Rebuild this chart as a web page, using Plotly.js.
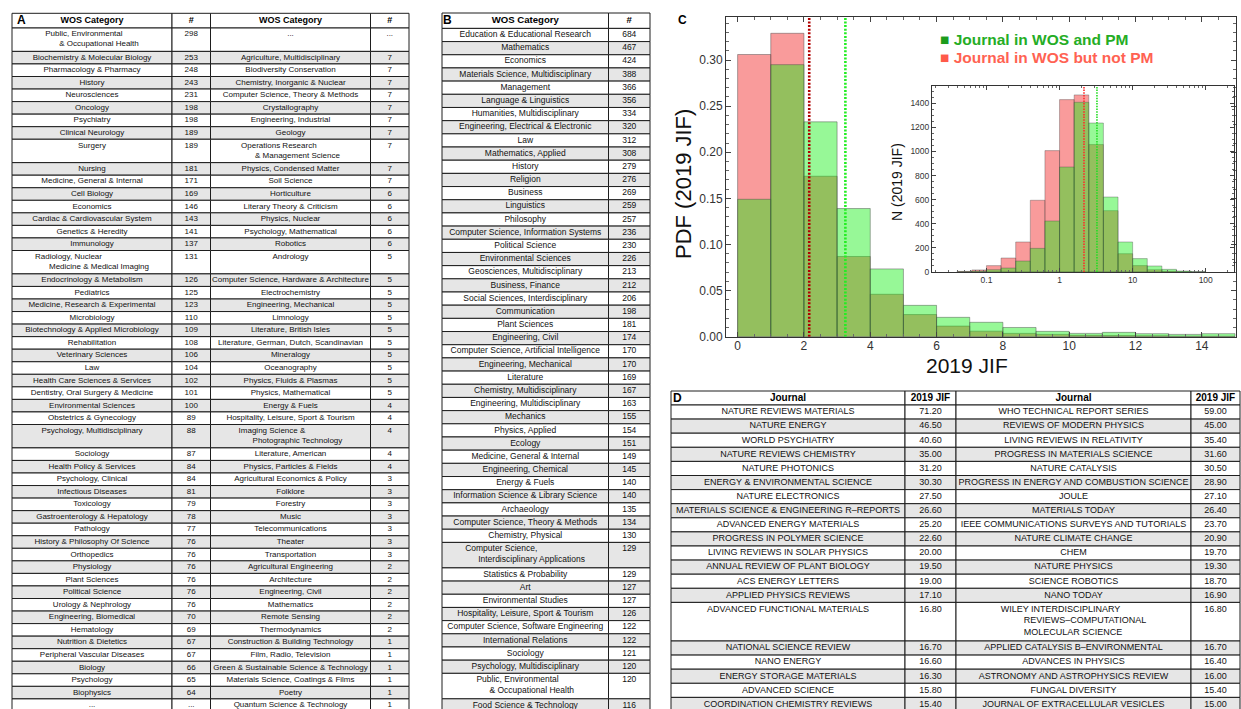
<!DOCTYPE html>
<html><head><meta charset="utf-8">
<script src="https://cdn.plot.ly/plotly-3.0.1.min.js"></script>
<style>html,body{margin:0;padding:0;background:#fff;overflow:hidden}</style>
</head><body><div id="chart" style="width:1241px;height:709px"></div>
<script>
// ================= DATA =================
// Table A: WOS categories of journals in PM
const tableA_catLeft = [
"Public, Environmental\n& Occupational Health","Biochemistry & Molecular Biology","Pharmacology & Pharmacy","History","Neurosciences","Oncology","Psychiatry","Clinical Neurology","Surgery","Nursing","Medicine, General & Internal","Cell Biology","Economics","Cardiac & Cardiovascular System","Genetics & Heredity","Immunology","Radiology, Nuclear\nMedicine & Medical Imaging","Endocrinology & Metabolism","Pediatrics","Medicine, Research & Experimental","Microbiology","Biotechnology & Applied Microbiology","Rehabilitation","Veterinary Sciences","Law","Health Care Sciences & Services","Dentistry, Oral Surgery & Medicine","Environmental Sciences","Obstetrics & Gynecology","Psychology, Multidisciplinary","Sociology","Health Policy & Services","Psychology, Clinical","Infectious Diseases","Toxicology","Gastroenterology & Hepatology","Pathology","History & Philosophy Of Science","Orthopedics","Physiology","Plant Sciences","Political Science","Urology & Nephrology","Engineering, Biomedical","Hematology","Nutrition & Dietetics","Peripheral Vascular Diseases","Biology","Psychology","Biophysics","..."];
const tableA_numLeft = [298,253,248,243,231,198,198,189,189,181,171,169,146,143,141,137,131,126,125,123,110,109,108,106,104,102,101,100,89,88,87,84,84,81,79,78,77,76,76,76,76,76,76,70,69,67,67,66,65,64,"..."];
const tableA_catRight = [
"...","Agriculture, Multidisciplinary","Biodiversity Conservation","Chemistry, Inorganic & Nuclear","Computer Science, Theory & Methods","Crystallography","Engineering, Industrial","Geology","Operations Research\n& Management Science","Physics, Condensed Matter","Soil Science","Horticulture","Literary Theory & Criticism","Physics, Nuclear","Psychology, Mathematical","Robotics","Andrology","Computer Science, Hardware & Architecture","Electrochemistry","Engineering, Mechanical","Limnology","Literature, British Isles","Literature, German, Dutch, Scandinavian","Mineralogy","Oceanography","Physics, Fluids & Plasmas","Physics, Mathematical","Energy & Fuels","Hospitality, Leisure, Sport & Tourism","Imaging Science &\nPhotographic Technology","Literature, American","Physics, Particles & Fields","Agricultural Economics & Policy","Folklore","Forestry","Music","Telecommunications","Theater","Transportation","Agricultural Engineering","Architecture","Engineering, Civil","Mathematics","Remote Sensing","Thermodynamics","Construction & Building Technology","Film, Radio, Television","Green & Sustainable Science & Technology","Materials Science, Coatings & Films","Poetry","Quantum Science & Technology"];
const tableA_numRight = ["...",7,7,7,7,7,7,7,7,7,7,6,6,6,6,6,5,5,5,5,5,5,5,5,5,5,5,4,4,4,4,4,3,3,3,3,3,3,3,2,2,2,2,2,2,1,1,1,1,1,1];

// Table B: WOS categories of journals not in PM
const tableB_cat = [
"Education & Educational Research","Mathematics","Economics","Materials Science, Multidisciplinary","Management","Language & Linguistics","Humanities, Multidisciplinary","Engineering, Electrical & Electronic","Law","Mathematics, Applied","History","Religion","Business","Linguistics","Philosophy","Computer Science, Information Systems","Political Science","Environmental Sciences","Geosciences, Multidisciplinary","Business, Finance","Social Sciences, Interdisciplinary","Communication","Plant Sciences","Engineering, Civil","Computer Science, Artificial Intelligence","Engineering, Mechanical","Literature","Chemistry, Multidisciplinary","Engineering, Multidisciplinary","Mechanics","Physics, Applied","Ecology","Medicine, General & Internal","Engineering, Chemical","Energy & Fuels","Information Science & Library Science","Archaeology","Computer Science, Theory & Methods","Chemistry, Physical","Computer Science,\nInterdisciplinary Applications","Statistics & Probability","Art","Environmental Studies","Hospitality, Leisure, Sport & Tourism","Computer Science, Software Engineering","International Relations","Sociology","Psychology, Multidisciplinary","Public, Environmental\n& Occupational Health","Food Science & Technology"];
const tableB_num = [684,467,424,388,366,356,334,320,312,308,279,276,269,259,257,236,230,226,213,212,206,198,181,174,170,170,169,167,163,155,154,151,149,145,140,140,135,134,130,129,129,127,127,126,122,122,121,120,120,116];

// Table D: top journals not in PM by 2019 JIF
const tableD_journalLeft = ["NATURE REVIEWS MATERIALS","NATURE ENERGY","WORLD PSYCHIATRY","NATURE REVIEWS CHEMISTRY","NATURE PHOTONICS","ENERGY & ENVIRONMENTAL SCIENCE","NATURE ELECTRONICS","MATERIALS SCIENCE & ENGINEERING R\u2013REPORTS","ADVANCED ENERGY MATERIALS","PROGRESS IN POLYMER SCIENCE","LIVING REVIEWS IN SOLAR PHYSICS","ANNUAL REVIEW OF PLANT BIOLOGY","ACS ENERGY LETTERS","APPLIED PHYSICS REVIEWS","ADVANCED FUNCTIONAL MATERIALS","NATIONAL SCIENCE REVIEW","NANO ENERGY","ENERGY STORAGE MATERIALS","ADVANCED SCIENCE","COORDINATION CHEMISTRY REVIEWS"];
const tableD_jifLeft = [71.20,46.50,40.60,35.00,31.20,30.30,27.50,26.60,25.20,22.60,20.00,19.50,19.00,17.10,16.80,16.70,16.60,16.30,15.80,15.40];
const tableD_journalRight = ["WHO TECHNICAL REPORT SERIES","REVIEWS OF MODERN PHYSICS","LIVING REVIEWS IN RELATIVITY","PROGRESS IN MATERIALS SCIENCE","NATURE CATALYSIS","PROGRESS IN ENERGY AND COMBUSTION SCIENCE","JOULE","MATERIALS TODAY","IEEE COMMUNICATIONS SURVEYS AND TUTORIALS","NATURE CLIMATE CHANGE","CHEM","NATURE PHYSICS","SCIENCE ROBOTICS","NANO TODAY","WILEY INTERDISCIPLINARY\nREVIEWS\u2013COMPUTATIONAL\nMOLECULAR SCIENCE","APPLIED CATALYSIS B\u2013ENVIRONMENTAL","ADVANCES IN PHYSICS","ASTRONOMY AND ASTROPHYSICS REVIEW","FUNGAL DIVERSITY","JOURNAL OF EXTRACELLULAR VESICLES"];
const tableD_jifRight = [59.00,45.00,35.40,31.60,30.50,28.90,27.10,26.40,23.70,20.90,19.70,19.30,18.70,16.90,16.80,16.70,16.40,16.00,15.40,15.00];

// Panel C: PDF of 2019 JIF (linear bins) and counts (log bins)
const jifBinEdges = [0,1,2,3,4,5,6,7,8,9,10,11,12,13,14,15];
const pdfInWosAndPM = [0.149,0.295,0.233,0.139,0.0735,0.034,0.021,0.0156,0.0100,0.0058,0.0036,0.0047,0.0033,0.0025,0.0033];
const pdfInWosNotPM = [0.306,0.329,0.174,0.087,0.046,0.024,0.0115,0.006,0.0036,0.0025,0.0015,0.0012,0.001,0.0006,0.0005];
const logBinEdges = [0.0398,0.0631,0.1,0.1585,0.2512,0.3981,0.631,1,1.585,2.512,3.981,6.31,10,15.85,25.12,39.81,63.1,100];
const countInWosAndPM = [2,7,19,33,91,196,423,871,1408,1236,622,249,111,50,22,8,2];
const countInWosNotPM = [5,17,53,116,249,595,1007,1430,1469,1057,509,152,53,19,6,2,0];
const medianJifPM = 3.25;
const medianJifNotPM = 2.16;
const insetTickVals = [0.1,1,10,100];
const insetTickText = ["0.1","1","10","100"];

// ================= LAYOUT HELPERS =================
const W = 1241, H = 709;
const FONT = '"Liberation Sans", Arial, Helvetica, sans-serif';
const px = x => x / W;
const py = y => 1 - y / H;
const SHADE = '#e6e6e6';
const GRID = '#1e1e1e';

const ctx = document.createElement('canvas').getContext('2d');
function textWidth(s, size) { ctx.font = size + 'px "Liberation Sans"'; return ctx.measureText(s).width; }

function buildTable(cfg) {
  const cols = cfg.columns;
  const nRows = cols[0].values.length;
  const split = cols.map(c => c.values.map(v => (typeof v === 'number' && c.fixed ? v.toFixed(c.fixed) : String(v)).split('\n')));
  const nLines = [];
  for (let i = 0; i < nRows; i++) nLines.push(Math.max(...split.map(s => s[i].length)));
  const heights = nLines.map(n => cfg.rowH + (n - 1) * cfg.extraH);
  const tops = [];
  let y = cfg.top + cfg.headerH;
  heights.forEach(h => { tops.push(y); y += h; });
  const traces = [];
  const cT = {x: [], y: [], text: []}, lT = {x: [], y: [], text: []}, hT = {x: [], y: [], text: []};
  cols.forEach((col, c) => {
    const x0 = cfg.edges[c], x1 = cfg.edges[c + 1], xc = (x0 + x1) / 2;
    const ys = [cfg.top + cfg.headerH / 2].concat(tops.map((t, i) => t + heights[i] / 2));
    const ws = [cfg.headerH].concat(heights);
    const fills = ['#ffffff'].concat(heights.map((_, i) => i % 2 ? SHADE : '#ffffff'));
    traces.push({type: 'bar', orientation: 'h', xaxis: 'x3', yaxis: 'y3', y: ys, width: ws, base: x0,
      x: ys.map(() => x1 - x0), marker: {color: fills, line: {color: GRID, width: 1}},
      hoverinfo: 'skip', showlegend: false});
    hT.x.push(xc); hT.y.push(cfg.top + cfg.headerH / 2); hT.text.push('<b>' + col.header + '</b>');
    split[c].forEach((ls, i) => {
      const yFirst = tops[i] + cfg.rowH / 2;
      if (ls.length === 1) { cT.x.push(xc); cT.y.push(yFirst); cT.text.push(ls[0]); }
      else {
        let wBlock = textWidth(ls[0], cfg.font);
        ls.slice(1).forEach(l => { wBlock = Math.max(wBlock, cfg.indent + textWidth(l, cfg.font)); });
        const left = xc - wBlock / 2;
        ls.forEach((l, k) => { lT.x.push(left + (k ? cfg.indent : 0)); lT.y.push(yFirst + k * cfg.lineStep); lT.text.push(l); });
      }
    });
  });
  const tf = {family: FONT, size: cfg.font, color: '#111'};
  const base = {type: 'scatter', mode: 'text', xaxis: 'x3', yaxis: 'y3', hoverinfo: 'skip', showlegend: false};
  traces.push(Object.assign({}, base, cT, {textposition: 'middle center', textfont: tf}));
  traces.push(Object.assign({}, base, lT, {textposition: 'middle right', textfont: tf}));
  traces.push(Object.assign({}, base, hT, {textposition: 'middle center', textfont: {family: FONT, size: cfg.headFont, color: '#000'}}));
  return traces;
}

const tableA = buildTable({
  columns: [{header: 'WOS Category', values: tableA_catLeft}, {header: '#', values: tableA_numLeft},
            {header: 'WOS Category', values: tableA_catRight}, {header: '#', values: tableA_numRight}],
  edges: [12, 172, 210.5, 370.5, 409], top: 13.3, headerH: 14.7, rowH: 12.55, extraH: 10.85, lineStep: 10,
  font: 8, headFont: 9, indent: 14});
const tableB = buildTable({
  columns: [{header: 'WOS Category', values: tableB_cat}, {header: '#', values: tableB_num}],
  edges: [442, 608.5, 650], top: 13, headerH: 15.4, rowH: 13.18, extraH: 12.3, lineStep: 11,
  font: 8.5, headFont: 9.6, indent: 13});
const tableD = buildTable({
  columns: [{header: 'Journal', values: tableD_journalLeft}, {header: '2019 JIF', values: tableD_jifLeft, fixed: 2},
            {header: 'Journal', values: tableD_journalRight}, {header: '2019 JIF', values: tableD_jifRight, fixed: 2}],
  edges: [671, 905, 956, 1191, 1240], top: 391, headerH: 14, rowH: 14.1, extraH: 12.25, lineStep: 11.5,
  font: 9, headFont: 10, indent: 23});

// ================= PANEL C =================
const RED_FILL = 'rgba(240,5,5,0.40)';
const GREEN_FILL = 'rgba(13,238,13,0.43)';
const EDGE = 'rgba(70,70,70,0.45)';
const MAIN_YMAX = 0.347, INSET_YMAX = 1543;

const linLeft = jifBinEdges.slice(0, -1);
const linWidth = linLeft.map((e, i) => jifBinEdges[i + 1] - e);
const logLeft = logBinEdges.slice(0, -1);
const logWidth = logLeft.map((e, i) => logBinEdges[i + 1] - e);

const chartTraces = [
  {type: 'bar', x: linLeft, y: pdfInWosNotPM, width: linWidth, offset: 0, name: 'Journal in WOS but not PM',
   marker: {color: RED_FILL, line: {color: EDGE, width: 1}}, xaxis: 'x', yaxis: 'y', hoverinfo: 'skip'},
  {type: 'bar', x: linLeft, y: pdfInWosAndPM, width: linWidth, offset: 0, name: 'Journal in WOS and PM',
   marker: {color: GREEN_FILL, line: {color: EDGE, width: 1}}, xaxis: 'x', yaxis: 'y', hoverinfo: 'skip'},
  {type: 'scatter', mode: 'lines', x: [medianJifNotPM, medianJifNotPM], y: [0, MAIN_YMAX],
   line: {color: '#b00000', width: 2.6, dash: '2px,1.6px'}, xaxis: 'x', yaxis: 'y', hoverinfo: 'skip'},
  {type: 'scatter', mode: 'lines', x: [medianJifPM, medianJifPM], y: [0, MAIN_YMAX],
   line: {color: '#22ee22', width: 2.6, dash: '2px,1.6px'}, xaxis: 'x', yaxis: 'y', hoverinfo: 'skip'},
  {type: 'bar', x: logLeft, y: countInWosNotPM, width: logWidth, offset: 0,
   marker: {color: RED_FILL, line: {color: EDGE, width: 0.8}}, xaxis: 'x2', yaxis: 'y2', hoverinfo: 'skip'},
  {type: 'bar', x: logLeft, y: countInWosAndPM, width: logWidth, offset: 0,
   marker: {color: GREEN_FILL, line: {color: EDGE, width: 0.8}}, xaxis: 'x2', yaxis: 'y2', hoverinfo: 'skip'},
  {type: 'scatter', mode: 'lines', x: [medianJifNotPM, medianJifNotPM], y: [0, INSET_YMAX],
   line: {color: '#ff2a2a', width: 1.6, dash: '1.5px,1.2px'}, xaxis: 'x2', yaxis: 'y2', hoverinfo: 'skip'},
  {type: 'scatter', mode: 'lines', x: [medianJifPM, medianJifPM], y: [0, INSET_YMAX],
   line: {color: '#22dd22', width: 1.6, dash: '1.5px,1.2px'}, xaxis: 'x2', yaxis: 'y2', hoverinfo: 'skip'}
];

const axisStyle = {ticks: 'inside', tickwidth: 1, tickcolor: '#444', showline: true, linecolor: '#333',
  linewidth: 1, mirror: 'ticks', showgrid: false, zeroline: false, fixedrange: true};
const minorTicks = [];
[0.01, 0.1, 1, 10, 100].forEach(d => { for (let k = 2; k <= 9; k++) minorTicks.push(+(k * d).toPrecision(3)); });

function ann(text, x, y, size, opts) {
  return Object.assign({text: text, x: px(x), y: py(y), xref: 'paper', yref: 'paper', showarrow: false,
    xanchor: 'center', yanchor: 'middle', font: {family: FONT, size: size, color: '#111'}}, opts || {});
}

const layout = {
  width: W, height: H, margin: {l: 0, r: 0, t: 0, b: 0}, paper_bgcolor: '#fff', plot_bgcolor: 'rgba(0,0,0,0)',
  showlegend: false, barmode: 'overlay', bargap: 0, font: {family: FONT},
  xaxis: Object.assign({}, axisStyle, {domain: [px(726), px(1236)], range: [-0.35, 15.03], anchor: 'y',
    tickmode: 'linear', tick0: 0, dtick: 2, ticklen: 5, ticklabelstandoff: -2, tickfont: {family: FONT, size: 12, color: '#333'},
    minor: {tick0: 0, dtick: 0.5, ticks: 'inside', ticklen: 3, tickcolor: '#666', showgrid: false}}),
  yaxis: Object.assign({}, axisStyle, {domain: [py(336.7), py(16.7)], range: [0, MAIN_YMAX], anchor: 'x',
    tickmode: 'linear', tick0: 0, dtick: 0.05, tickformat: '.2f', ticklen: 5, tickfont: {family: FONT, size: 12, color: '#333'},
    minor: {tick0: 0, dtick: 0.01, ticks: 'inside', ticklen: 3, tickcolor: '#666', showgrid: false}}),
  xaxis2: Object.assign({}, axisStyle, {domain: [px(932), px(1233.5)], type: 'log', range: [-1.745, 2.38], anchor: 'y2',
    tickmode: 'array', tickvals: insetTickVals, ticktext: insetTickText, ticklen: 4, tickfont: {family: FONT, size: 8.5, color: '#333'},
    minor: {tickmode: 'array', tickvals: minorTicks, ticks: 'inside', ticklen: 2, tickcolor: '#666', showgrid: false}}),
  yaxis2: Object.assign({}, axisStyle, {domain: [py(272), py(86)], range: [0, INSET_YMAX], anchor: 'x2',
    tickmode: 'linear', tick0: 0, dtick: 200, ticklen: 4, tickfont: {family: FONT, size: 8.5, color: '#333'},
    minor: {tick0: 0, dtick: 50, ticks: 'inside', ticklen: 2, tickcolor: '#666', showgrid: false}}),
  xaxis3: {domain: [0, 1], range: [0, W], visible: false, fixedrange: true, anchor: 'y3'},
  yaxis3: {domain: [0, 1], range: [H, 0], visible: false, fixedrange: true, anchor: 'x3'},
  annotations: [
    ann('<b>A</b>', 21, 20.5, 12, {font: {family: FONT, size: 12, color: '#000'}}),
    ann('<b>B</b>', 447, 20.5, 12, {font: {family: FONT, size: 12, color: '#000'}}),
    ann('<b>D</b>', 677, 398, 12, {font: {family: FONT, size: 12, color: '#000'}}),
    ann('<b>C</b>', 682, 20, 12, {font: {family: FONT, size: 12, color: '#000'}}),
    ann('PDF (2019 JIF)', 683.5, 184.5, 22, {textangle: -90}),
    ann('2019 JIF', 967, 365.5, 21, {borderpad: 0}),
    ann('N (2019 JIF)', 897, 182, 14, {textangle: -90}),
    ann('<span style="color:#1c9c1c">\u25A0</span> <b>Journal in WOS and PM</b>', 938, 39, 15.5,
        {xanchor: 'left', font: {family: FONT, size: 15.5, color: '#25ad25'}}),
    ann('<span style="color:#ff5a4a">\u25A0</span> <b>Journal in WOS but not PM</b>', 938, 58, 15.5,
        {xanchor: 'left', font: {family: FONT, size: 15.5, color: '#ff6252'}})
  ]
};

Plotly.newPlot('chart', chartTraces.concat(tableA, tableB, tableD), layout, {staticPlot: true, displayModeBar: false});
</script></body></html>
